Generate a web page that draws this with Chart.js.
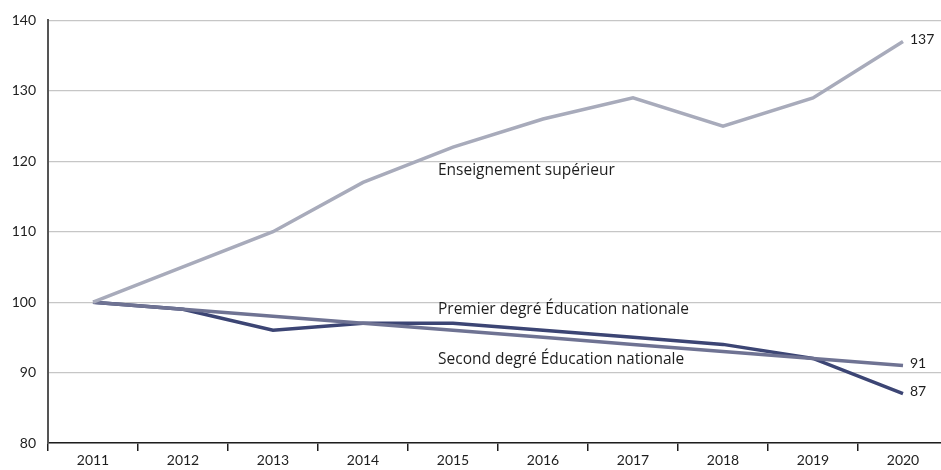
<!DOCTYPE html>
<html>
<head>
<meta charset="utf-8">
<script src="https://cdn.jsdelivr.net/npm/chart.js@4"></script>
<style>
  html, body { margin: 0; padding: 0; background: #fff; overflow: hidden; }
  #wrap { width: 950px; height: 470px; }
</style>
</head>
<body>
<div id="wrap"><canvas id="chart" width="950" height="470"></canvas></div>
<script>
const years = ['2011', '2012', '2013', '2014', '2015', '2016', '2017', '2018', '2019', '2020'];
const superieur = [100, 105, 110, 117, 122, 126, 129, 125, 129, 137];
const premierDegre = [100, 99, 96, 97, 97, 96, 95, 94, 92, 87];
const secondDegre = [100, 99, 98, 97, 96, 95, 94, 93, 92, 91];

const seriesLabels = ['Enseignement supérieur', 'Premier degré Éducation nationale', 'Second degré Éducation nationale'];

// text next to the lines, anchored at data positions
const annotations = [
  { text: seriesLabels[0], x: 4, y: 118.7 },
  { text: seriesLabels[1], x: 4, y: 98.9 },
  { text: seriesLabels[2], x: 4, y: 91.9 }
];

const textPlugin = {
  id: 'lineText',
  afterDatasetsDraw(chart) {
    const { ctx, scales: { x, y } } = chart;
    ctx.save();
    ctx.font = '15.5px "Open Sans", Lato, sans-serif';
    ctx.fillStyle = '#1e1e1e';
    ctx.textBaseline = 'middle';
    ctx.textAlign = 'left';
    annotations.forEach((a) => {
      ctx.fillText(a.text, x.getPixelForValue(a.x) - 15, y.getPixelForValue(a.y));
    });
    // end values
    ctx.font = '14px Lato, "Open Sans", sans-serif';
    chart.data.datasets.forEach((ds) => {
      const last = ds.data.length - 1;
      const v = ds.data[last];
      ctx.fillText(String(v), x.getPixelForValue(last) + 7, y.getPixelForValue(v) - 2);
    });
    ctx.restore();
  }
};

const ctx = document.getElementById('chart').getContext('2d');
new Chart(ctx, {
  type: 'line',
  data: {
    labels: years,
    datasets: [
      { label: seriesLabels[0], data: superieur, borderColor: '#a8abbb', borderWidth: 3.5 },
      { label: seriesLabels[2], data: secondDegre, borderColor: '#6f7393', borderWidth: 3.5 },
      { label: seriesLabels[1], data: premierDegre, borderColor: '#3c4574', borderWidth: 3.5 }
    ]
  },
  options: {
    responsive: false,
    animation: false,
    elements: { point: { radius: 0 }, line: { tension: 0, borderCapStyle: 'butt' } },
    layout: { padding: { top: 14, right: 2, left: 0, bottom: 0 } },
    plugins: { legend: { display: false }, tooltip: { enabled: false } },
    scales: {
      x: {
        offset: true,
        grid: { display: true, drawOnChartArea: false, offset: true, color: '#1e1e1e', tickLength: 8, lineWidth: 1.5 },
        border: { color: '#1e1e1e', width: 1.5 },
        ticks: { color: '#1e1e1e', font: { size: 14, family: 'Lato, "Open Sans", sans-serif' }, padding: 1, maxRotation: 0 },
        afterFit(scale) { scale.height = 27; }
      },
      y: {
        min: 80,
        max: 140,
        ticks: { stepSize: 10, color: '#1e1e1e', font: { size: 14, family: 'Lato, "Open Sans", sans-serif' }, padding: 12 },
        grid: { color: '#c6c6c6', lineWidth: 1.2, drawTicks: false },
        border: { color: '#555', width: 2 },
        afterFit(scale) { scale.width = 48; }
      }
    }
  },
  plugins: [textPlugin]
});
</script>
</body>
</html>
